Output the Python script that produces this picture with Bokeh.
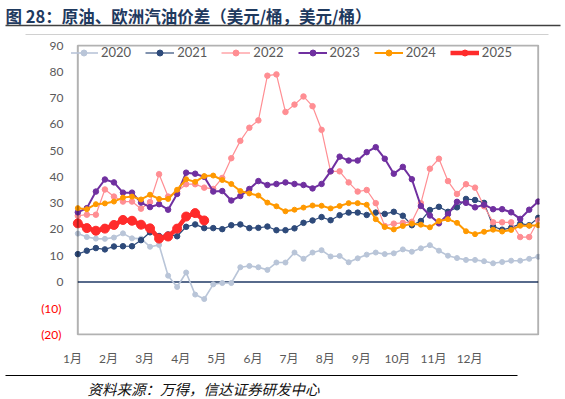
from bokeh.plotting import figure
from bokeh.models import FixedTicker, Range1d, Legend, LegendItem, BoxAnnotation, LinearAxis
from bokeh.layouts import column
from bokeh.embed import file_html
from bokeh.resources import INLINE
from bokeh.core.properties import value

# ---------------- data (weekly, week index 0..51) ----------------
months = ["1月", "2月", "3月", "4月", "5月", "6月", "7月", "8月", "9月", "10月", "11月", "12月"]
y_ticks = [0, 10, 20, 30, 40, 50, 60, 70, 80, 90]
neg_ticks = [-10, -20]
neg_labels = ["(10)", "(20)"]

s2020 = [18.4, 17.1, 16.5, 16.4, 16.9, 18.5, 16.6, 16.5, 13.4, 14.1, 2.4, -1.9, 3.6, -4.8,
         -6.5, -0.9, -0.4, -0.4, 5.6, 6.1, 5.6, 4.6, 7.4, 7.4, 11.2, 8.8,
         11.2, 12.1, 9.7, 9.9, 7.5, 9.0, 10.4, 11.2, 10.6, 10.9, 12.4, 11.5, 12.8,
         14.0, 11.9, 10.0, 9.1, 8.4, 8.4, 7.9, 7.1, 7.6, 8.1, 8.1, 8.8, 9.6]
s2021 = [10.6, 11.9, 12.9, 12.4, 13.5, 13.6, 13.6, 15.9, 18.9, 17.5, 18.1, 17.4, 21.0, 21.9,
         20.5, 20.5, 20.1, 21.6, 21.9, 20.5, 20.6, 21.1, 19.7, 19.7, 20.4, 22.5,
         23.4, 24.7, 23.5, 25.4, 26.4, 26.4, 25.5, 26.4, 25.9, 26.7, 25.2, 21.6, 23.2,
         27.4, 28.6, 26.7, 28.4, 31.6, 31.2, 30.1, 21.1, 19.9, 20.6, 22.2, 21.6, 24.4]
s2022 = [25.2, 25.6, 25.6, 35.2, 32.5, 30.6, 30.6, 27.9, 30.4, 41.0, 32.5, 34.4, 37.2, 37.2,
         35.9, 35.4, 39.6, 47.1, 53.7, 58.7, 61.5, 78.5, 79.0, 64.7, 67.5, 70.6,
         66.9, 57.9, 42.1, 42.1, 37.9, 34.4, 35.0, 30.0, 21.3, 22.2, 22.5, 22.9, 30.0,
         43.1, 46.9, 38.4, 33.5, 37.2, 35.9, 28.8, 22.7, 22.7, 22.7, 17.1, 17.1, 23.4]
s2023 = [26.5, 28.1, 34.4, 39.0, 37.9, 34.0, 34.0, 30.2, 28.5, 29.6, 27.5, 33.5, 41.6, 41.2,
         40.0, 34.4, 34.6, 31.0, 32.7, 35.4, 38.4, 36.9, 37.3, 37.9, 37.3, 36.9,
         35.6, 37.3, 42.1, 47.7, 46.2, 46.2, 49.4, 51.3, 46.9, 41.2, 43.8, 39.1, 28.9,
         25.3, 22.3, 25.8, 30.5, 30.1, 28.4, 29.4, 27.7, 27.7, 26.5, 24.0, 27.5, 30.6]
s2024 = [28.1, 27.7, 29.6, 29.9, 30.6, 32.1, 32.5, 31.4, 33.2, 31.6, 31.6, 35.1, 39.1, 38.1,
         40.3, 40.5, 38.8, 37.3, 34.6, 33.7, 32.9, 30.2, 28.8, 26.9, 27.5, 28.3,
         29.1, 29.0, 28.0, 28.9, 30.0, 30.0, 29.4, 23.9, 20.9, 20.0, 21.3, 22.2, 21.8,
         20.8, 23.2, 23.9, 22.5, 19.3, 18.2, 19.1, 19.9, 19.2, 19.8, 21.4, 21.4, 21.6]
s2025 = [22.3, 20.5, 19.5, 20.3, 21.7, 23.6, 23.3, 21.8, 20.4, 16.5, 17.3, 20.3, 24.9, 26.2, 23.4]

series = [
    ("2020", s2020, "#b9c5d8", 1.6, 5),
    ("2021", s2021, "#2e4a7a", 1.2, 5.5),
    ("2022", s2022, "#ff8e93", 1.2, 5.5),
    ("2023", s2023, "#7030a0", 2.0, 5.5),
    ("2024", s2024, "#ff9900", 2.0, 5),
    ("2025", s2025, "#ff2b2b", 4.5, 9),
]

W = 565
TXT = "#595959"
FONT = "Lato, 'Noto Sans CJK SC'"
CJK = "Noto Sans CJK SC"

# ---------------- header ----------------
H_TOP = 38
top = figure(width=W, height=H_TOP, x_range=Range1d(0, W), y_range=Range1d(H_TOP, 0),
             output_backend="svg", toolbar_location=None, min_border=0,
             x_axis_location=None, y_axis_location=None, frame_align=False)
top.grid.visible = False
top.outline_line_color = None
top.text(x=[5], y=[15], text=["图 28：原油、欧洲汽油价差（美元/桶，美元/桶）"],
         text_font=value(CJK), text_font_style="bold", text_font_size="16.5px",
         text_baseline="middle", text_align="left", text_color="#1f3a5f")
top.segment(x0=[5], y0=[25], x1=[560], y1=[25], line_color="#404040", line_width=1.5)
top.segment(x0=[25], y0=[34], x1=[548], y1=[34], line_color="#d0d0d0", line_width=1)

# ---------------- main chart ----------------
n = len(s2020)
p = figure(width=W, height=330, x_range=Range1d(-0.7, 51.14), y_range=Range1d(-20.375, 90.375),
           output_backend="svg", toolbar_location=None, frame_align=False,
           min_border_left=71, min_border_right=26, min_border_top=6, min_border_bottom=29)
p.grid.visible = False
p.outline_line_color = None
p.background_fill_color = "white"
p.border_fill_color = "white"

month_pos = [round(-0.6 + 4.0 * k, 2) for k in range(len(months))]
p.xaxis.ticker = FixedTicker(ticks=month_pos)
p.xaxis.major_label_overrides = {pos: lab for pos, lab in zip(month_pos, months)}
p.yaxis.ticker = FixedTicker(ticks=y_ticks)

neg_axis = LinearAxis(ticker=FixedTicker(ticks=neg_ticks),
                      major_label_overrides={t: lab for t, lab in zip(neg_ticks, neg_labels)})
p.add_layout(neg_axis, "left")

for ax in (p.xaxis[0], p.yaxis[0], neg_axis):
    ax.axis_line_color = None
    ax.major_tick_line_color = None
    ax.minor_tick_line_color = None
    ax.major_tick_out = 0
    ax.major_tick_in = 0
    ax.minor_tick_out = 0
    ax.major_label_text_color = TXT
    ax.major_label_text_font_size = "12px"
    ax.major_label_text_font = FONT
p.xaxis.major_label_standoff = 15
p.yaxis[0].major_label_standoff = 8
neg_axis.major_label_text_color = "#ff0000"
neg_axis.major_label_standoff = -15

# zero line
p.segment(x0=[0], y0=[0], x1=[n - 1], y1=[0], line_color="#1f3864", line_width=1.5)

items = []
for name, vals, col, lw, ms in series:
    xs = list(range(len(vals)))
    r1 = p.line(xs, vals, line_color=col, line_width=lw)
    r2 = p.scatter(xs, vals, size=ms, fill_color=col, line_color=col)
    items.append(LegendItem(label=name, renderers=[r1, r2]))

p.add_layout(BoxAnnotation(left=0, right=n - 1, bottom=-20, top=90, fill_alpha=0,
                           line_color="black", line_width=2))

legend = Legend(items=items, orientation="horizontal", location=(-2, 275),
                background_fill_alpha=0, border_line_color=None, padding=0, margin=0,
                spacing=14, glyph_width=29, glyph_height=15, label_height=15,
                label_standoff=3, label_text_font_size="13px", label_text_color=TXT,
                label_text_font=FONT)
p.add_layout(legend)

# ---------------- footer ----------------
H_BOT = 31
bot = figure(width=W, height=H_BOT, x_range=Range1d(0, W), y_range=Range1d(H_BOT, 0),
             output_backend="svg", toolbar_location=None, min_border=0,
             x_axis_location=None, y_axis_location=None, frame_align=False)
bot.grid.visible = False
bot.outline_line_color = None
bot.segment(x0=[5], y0=[7], x1=[517], y1=[7], line_color="black", line_width=1.2)
bot.text(x=[87], y=[20], text=["资料来源：万得，信达证券研发中心"],
         text_font=value(CJK), text_font_style="italic", text_font_size="14.5px",
         text_baseline="middle", text_align="left", text_color="#111111")

layout = column(top, p, bot)
open("out.html", "w").write(file_html(layout, INLINE))
